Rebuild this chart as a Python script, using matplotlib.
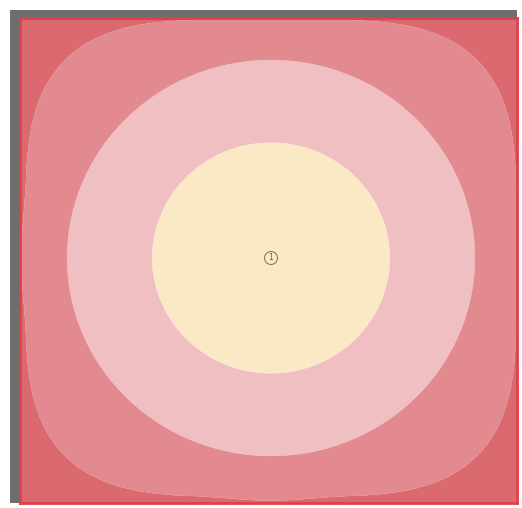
import numpy as np
import matplotlib
matplotlib.use('Agg')
from matplotlib import pyplot as plt
from matplotlib.patches import Rectangle, Circle

# map extent (pixel-like units) and the single sample point
x_extent = [0, 497]
y_extent = [0, 485]
point_x = [251]
point_y = [245]
point_label = ['1']

# contour class breaks (distance-like value) and fill colours
levels = [0, 119, 204, 250, 1000]
colors = ['#fbe9c6', '#f0bfc2', '#e38a90', '#db6970']

fig = plt.figure(figsize=(5.22, 5.08), dpi=100, facecolor='white')
W, H = 522, 508

# grey drop frame behind the map
fig.patches.append(Rectangle((10 / W, 1 - 503 / H), (517 - 10) / W, (503 - 10) / H,
                             transform=fig.transFigure, facecolor='#6e6e6e',
                             edgecolor='none', zorder=0))

ax = fig.add_axes([20 / W, 1 - 503 / H, (517 - 20) / W, (503 - 18) / H])
ax.set_zorder(1)

gx = np.linspace(x_extent[0], x_extent[1], 51)
gy = np.linspace(y_extent[0], y_extent[1], 51)
X, Y = np.meshgrid(gx, gy)
dx = X - point_x[0]
dy = (Y - point_y[0]) * 1.03
r = np.hypot(dx, dy)
theta = np.arctan2(dy, dx)
# round near the point, pushed out towards the corners near the map edge
a = 0.16 * np.clip((r - 212) / 46.0, 0, 1)
Z = r / (1 + a * np.abs(np.sin(2 * theta)) ** 3)

ax.contourf(X, Y, Z, levels=levels, colors=colors, antialiased=True)

for px, py, lab in zip(point_x, point_y, point_label):
    ax.add_patch(Circle((px, py), 6.5, facecolor='none', edgecolor='#8a7d5a',
                        linewidth=0.8, zorder=3))
    ax.text(px, py, lab, ha='center', va='center', fontsize=5.5,
            color='#6b6040', zorder=4)

ax.set_xlim(x_extent)
ax.set_ylim(y_extent)
ax.set_xticks([])
ax.set_yticks([])
for sp in ax.spines.values():
    sp.set_color('#e0404a')
    sp.set_linewidth(2)

fig.savefig('out.png', dpi=100, facecolor='white')
